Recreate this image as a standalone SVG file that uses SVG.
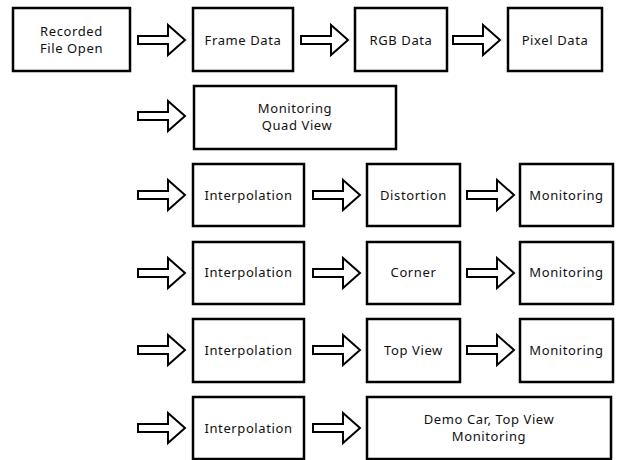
<svg xmlns="http://www.w3.org/2000/svg" width="618" height="460" viewBox="0 0 618 460">
<style>
.box{fill:#fff;stroke:#000;stroke-width:2.5}
.arr{fill:#fff;stroke:#000;stroke-width:2;stroke-linejoin:miter}
text{font-family:"Noto Sans","DejaVu Sans",sans-serif;font-size:13px;letter-spacing:0.6px;fill:#111;text-anchor:middle}
</style>
<defs>
<polygon id="ar" class="arr" points="0,-4 30,-4 30,-15 47,0 30,15 30,4 0,4"/>
</defs>
<rect width="618" height="460" fill="#fff"/>
<g id="connectors">
<use href="#ar" x="138" y="40"/>
<use href="#ar" x="301" y="40"/>
<use href="#ar" x="453" y="40"/>
<use href="#ar" x="138" y="116"/>
<use href="#ar" x="138" y="195"/>
<use href="#ar" x="313" y="195"/>
<use href="#ar" x="467" y="195"/>
<use href="#ar" x="138" y="273"/>
<use href="#ar" x="313" y="273"/>
<use href="#ar" x="467" y="273"/>
<use href="#ar" x="138" y="350"/>
<use href="#ar" x="313" y="350"/>
<use href="#ar" x="467" y="350"/>
<use href="#ar" x="138" y="428"/>
<use href="#ar" x="313" y="428"/>
</g>
<g id="n1"><rect class="box" x="13" y="8" width="117" height="63"/><text x="71.5" y="36">Recorded</text><text x="71.5" y="53">File Open</text></g>
<g id="n2"><rect class="box" x="193" y="8" width="100" height="63"/><text x="243" y="45">Frame Data</text></g>
<g id="n3"><rect class="box" x="355" y="8" width="92" height="63"/><text x="401" y="45">RGB Data</text></g>
<g id="n4"><rect class="box" x="508" y="8" width="94" height="63"/><text x="555" y="45">Pixel Data</text></g>
<g id="n5"><rect class="box" x="194" y="86" width="202" height="63"/><text x="295" y="113">Monitoring</text><text x="297" y="130">Quad View</text></g>
<g id="n6"><rect class="box" x="193" y="164" width="111" height="62"/><text x="248.5" y="200">Interpolation</text></g>
<g id="n7"><rect class="box" x="367" y="164" width="93" height="62"/><text x="413.5" y="200">Distortion</text></g>
<g id="n8"><rect class="box" x="520" y="164" width="93" height="62"/><text x="566.5" y="200">Monitoring</text></g>
<g id="n9"><rect class="box" x="193" y="242" width="111" height="62"/><text x="248.5" y="277">Interpolation</text></g>
<g id="n10"><rect class="box" x="367" y="242" width="93" height="62"/><text x="413.5" y="277">Corner</text></g>
<g id="n11"><rect class="box" x="520" y="242" width="93" height="62"/><text x="566.5" y="277">Monitoring</text></g>
<g id="n12"><rect class="box" x="193" y="319" width="111" height="63"/><text x="248.5" y="355">Interpolation</text></g>
<g id="n13"><rect class="box" x="367" y="319" width="93" height="63"/><text x="413.5" y="355">Top View</text></g>
<g id="n14"><rect class="box" x="520" y="319" width="93" height="63"/><text x="566.5" y="355">Monitoring</text></g>
<g id="n15"><rect class="box" x="193" y="397" width="111" height="62"/><text x="248.5" y="433">Interpolation</text></g>
<g id="n16"><rect class="box" x="367" y="397" width="244" height="62"/><text x="489" y="424">Demo Car, Top View</text><text x="489" y="441">Monitoring</text></g>
</svg>
